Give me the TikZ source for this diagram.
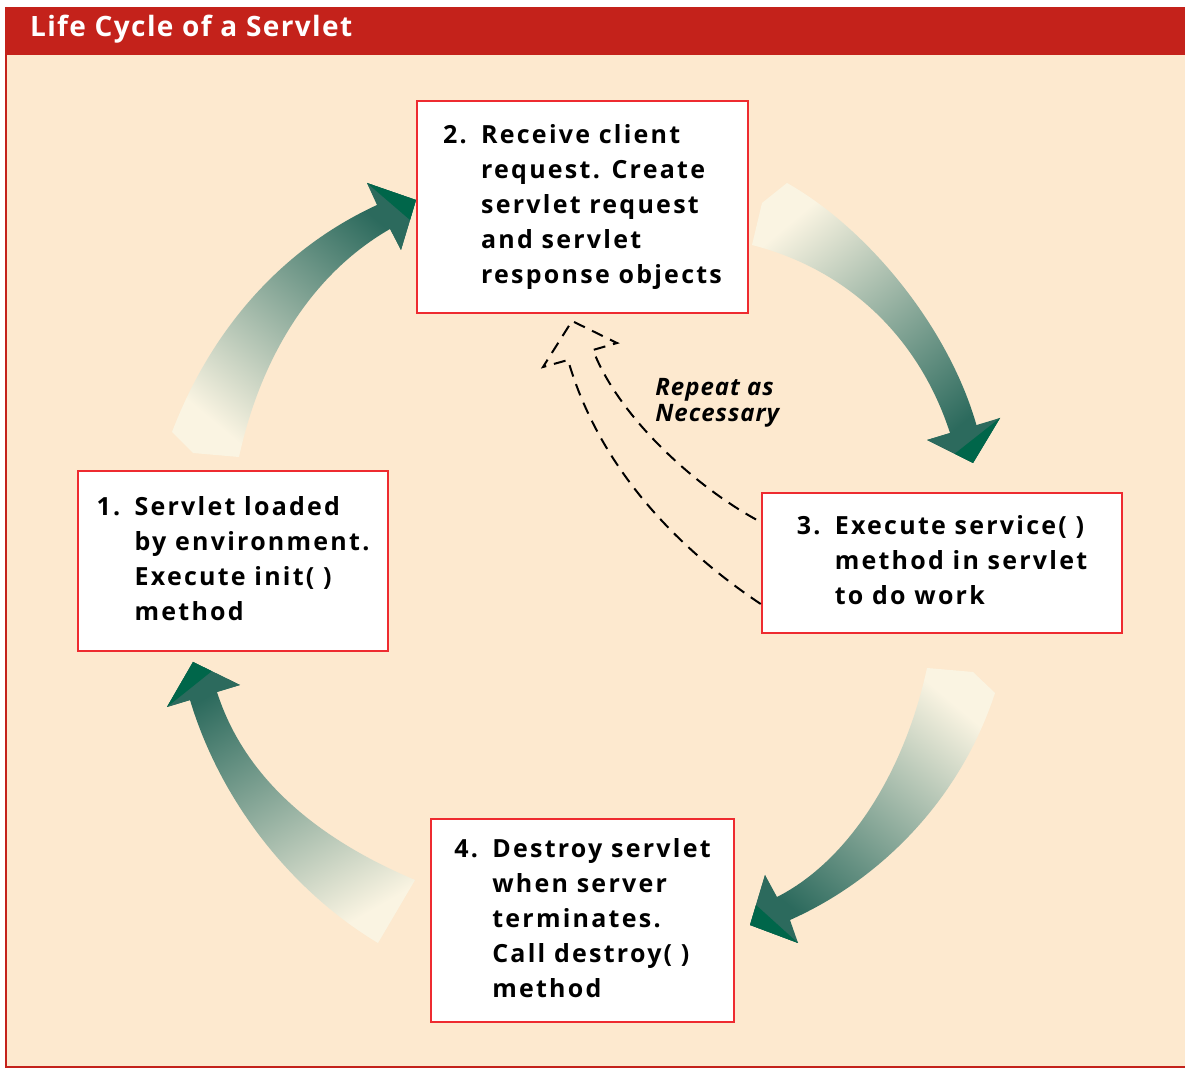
\documentclass[tikz,border=0pt]{standalone}
\usepackage{fontspec}
\setmainfont{Open Sans}[LetterSpace=9]
\newfontfamily\titlefont{Open Sans}[LetterSpace=5]
\newfontfamily\notefont{Open Sans}[LetterSpace=4]
\usetikzlibrary{calc}

\definecolor{bannerred}{HTML}{C4221B}
\definecolor{paper}{HTML}{FDE9CF}
\definecolor{boxred}{HTML}{EE2B30}
\definecolor{taillight}{HTML}{FAF4E2}
\definecolor{headgreen}{HTML}{2C6A5D}
\definecolor{tipgreen}{HTML}{00664A}

\newcommand{\stepitem}[2]{\begin{tabular}{@{}p{19pt}@{}l@{}}#1 & \begin{tabular}[t]{@{}l@{}}#2\end{tabular}\end{tabular}}

\tikzset{
	stepbox/.style={draw=boxred, line width=1.3pt, fill=white, inner sep=0pt,
		font=\fontsize{12.5}{17.5}\selectfont\bfseries},
	flowarrow/.style={bottom color=taillight, top color=headgreen, shading angle=#1},
	repeatline/.style={line width=1pt, dash pattern=on 6pt off 4pt},
}

\begin{document}
\begin{tikzpicture}[x=0.5pt, y=-0.5pt]
	\useasboundingbox (0,0) rectangle (1185,1068);
	\fill[white] (0,0) rectangle (1185,1068);
	\fill[paper] (6,55) rectangle (1185,1067);
	\fill[bannerred] (5,7) rectangle (1185,55);
	\draw[bannerred, line width=1pt] (6,7) -- (6,1067) -- (1185,1067);

	\node[anchor=west, text=white, font=\titlefont\fontsize{14}{16}\selectfont\bfseries] (title) at (23,29) {Life Cycle of a Servlet};

	% big arrows round the cycle
	\shade[flowarrow=-40] (172,432) .. controls (215,320) and (290,245) .. (377,205) -- (367,183) -- (416,200) -- (401,250) -- (390,229) .. controls (310,275) and (260,360) .. (239,457) -- (193,453) -- cycle;
	\fill[headgreen] (367,183) -- (416,200) -- (401,250) -- cycle;
	\fill[tipgreen] (367,183) -- (416,200) -- ($(416,200)!0.4!(401,250)$) -- cycle;

	\shade[flowarrow=-140] (787,183) .. controls (870,230) and (950,330) .. (977,427) -- (1000,418) -- (973,463) -- (927,440) -- (950,433) .. controls (920,340) and (850,270) .. (752,245) -- (762,203) -- cycle;
	\fill[headgreen] (1000,418) -- (973,463) -- (927,440) -- cycle;
	\fill[tipgreen] (1000,418) -- (973,463) -- ($(973,463)!0.4!(927,440)$) -- cycle;

	\shade[flowarrow=140] (995,693) .. controls (960,800) and (880,880) .. (790,920) -- (798,943) -- (750,925) -- (765,875) -- (777,897) .. controls (850,860) and (905,770) .. (927,668) -- (973,672) -- cycle;
	\fill[headgreen] (798,943) -- (750,925) -- (765,875) -- cycle;
	\fill[tipgreen] (798,943) -- (750,925) -- ($(750,925)!0.4!(765,875)$) -- cycle;

	\shade[flowarrow=30] (378,943) .. controls (290,890) and (220,800) .. (190,700) -- (167,707) -- (193,662) -- (240,685) -- (217,692) .. controls (245,780) and (320,840) .. (415,880) -- cycle;
	\fill[headgreen] (167,707) -- (193,662) -- (240,685) -- cycle;
	\fill[tipgreen] (167,707) -- (193,662) -- ($(193,662)!0.4!(240,685)$) -- cycle;

	% the four steps
	\node[stepbox, minimum width=155pt, minimum height=90pt] (load) at (233,561)
		{\stepitem{1.}{Servlet loaded\\by environment.\\Execute init( )\\method}};
	\node[stepbox, minimum width=165.5pt, minimum height=106pt] (request) at (582.5,207)
		{\stepitem{2.}{Receive client\\request. Create\\servlet request\\and servlet\\response objects}};
	\node[stepbox, minimum width=180pt, minimum height=70pt] (service) at (942,563)
		{\stepitem{3.}{Execute service( )\\method in servlet\\to do work}};
	\node[stepbox, minimum width=151.5pt, minimum height=101.5pt] (destroy) at (582.5,920.5)
		{\stepitem{4.}{Destroy servlet\\when server\\terminates.\\Call destroy( )\\method}};

	% hollow dashed loop back
	\draw[repeatline] ([yshift=-20.5pt]service.west) .. controls (680,550) and (600,470) .. (568,360) -- (543,367) -- (572,321) -- (617,343) -- (593,350) .. controls (620,420) and (700,490) .. ([yshift=20.5pt]service.west);
	\node[anchor=north west, inner sep=0pt, align=left, font=\notefont\fontsize{12}{13}\selectfont\bfseries\itshape] (again) at (655,378) {Repeat as\\Necessary};
\end{tikzpicture}
\end{document}
